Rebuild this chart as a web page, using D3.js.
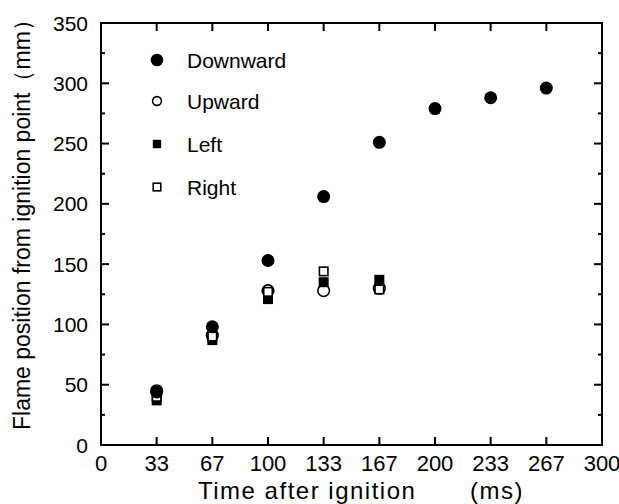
<!DOCTYPE html>
<html lang="en">
  <head>
    <meta charset="utf-8">
    <title>Flame position</title>
    <style>
      body { margin: 0; background: #fff; }
      text { font-family: "Liberation Sans", Arial, sans-serif; fill: #000; }
    </style>
  </head>
  <body>
    <svg id="chart"></svg>

    <script src="https://d3js.org/d3.v7.min.js"></script>

    <script type="text/javascript">
      // time after ignition (ms), frames every 33.3 ms
      const times = [100/3, 200/3, 100, 400/3, 500/3, 200, 700/3, 800/3];
      const downward = [44, 98, 153, 206, 251, 279, 288, 296];
      const upward = [45, 91, 128, 128, 130];
      const left = [37, 87, 121, 135, 137];
      const right = [40, 90, 127, 144, 129];

      const xTicks = [0, 100/3, 200/3, 100, 400/3, 500/3, 200, 700/3, 800/3, 300];
      const xTickLabels = ['0', '33', '67', '100', '133', '167', '200', '233', '267', '300'];
      const yTicks = [0, 50, 100, 150, 200, 250, 300, 350];
      const legendNames = ['Downward', 'Upward', 'Left', 'Right'];

      const W = 619, H = 504;
      const m = {left: 101, right: 602, top: 23, bottom: 445};

      const svg = d3.select('#chart')
        .attr('width', W)
        .attr('height', H);

      const x = d3.scaleLinear().domain([0, 300]).range([m.left, m.right]);
      const y = d3.scaleLinear().domain([0, 350]).range([m.bottom, m.top]);

      // ticks, pointing inward on every side
      const g = svg.append('g').attr('stroke', '#000').attr('stroke-width', 2);
      xTicks.slice(1, -1).forEach(t => {
        g.append('line').attr('x1', x(t)).attr('x2', x(t)).attr('y1', m.bottom).attr('y2', m.bottom - 8);
        g.append('line').attr('x1', x(t)).attr('x2', x(t)).attr('y1', m.top).attr('y2', m.top + 8);
      });
      d3.range(25, 350, 25).forEach(t => {
        const len = t % 50 === 0 ? 8 : 4;
        g.append('line').attr('x1', m.left).attr('x2', m.left + len).attr('y1', y(t)).attr('y2', y(t));
        g.append('line').attr('x1', m.right).attr('x2', m.right - len).attr('y1', y(t)).attr('y2', y(t));
      });
      svg.append('rect')
        .attr('x', m.left).attr('y', m.top)
        .attr('width', m.right - m.left).attr('height', m.bottom - m.top)
        .attr('fill', 'none').attr('stroke', '#000').attr('stroke-width', 2);

      // tick labels
      svg.append('g').selectAll('text')
        .data(xTicks)
        .join('text')
        .attr('x', d => x(d))
        .attr('y', 471)
        .attr('text-anchor', 'middle')
        .style('font-size', '22px')
        .style('font-stretch', 'condensed')
        .style('font-family', '"Liberation Sans Narrow", "Liberation Sans", sans-serif')
        .text((d, i) => xTickLabels[i]);

      svg.append('g').selectAll('text')
        .data(yTicks)
        .join('text')
        .attr('x', 88)
        .attr('y', d => y(d) + 7.5)
        .attr('text-anchor', 'end')
        .style('font-size', '21px')
        .text(d => d);

      // axis titles
      svg.append('text')
        .attr('x', 198).attr('y', 499)
        .style('font-size', '24px')
        .style('letter-spacing', '1.5px')
        .text('Time after ignition');
      svg.append('text')
        .attr('x', 470).attr('y', 499)
        .style('font-size', '24px')
        .style('letter-spacing', '1.5px')
        .text('(ms)');

      svg.append('text')
        .attr('transform', 'translate(30,430) rotate(-90)')
        .style('font-size', '23px')
        .text('Flame position from ignition point（mm）');

      // markers
      function circles(vals, filled, r) {
        svg.append('g').selectAll('circle')
          .data(vals)
          .join('circle')
          .attr('cx', (d, i) => x(times[i]))
          .attr('cy', d => y(d))
          .attr('r', r)
          .attr('fill', filled ? '#000' : '#fff')
          .attr('stroke', '#000')
          .attr('stroke-width', filled ? 0 : 1.6);
      }
      function squares(vals, filled, s) {
        svg.append('g').selectAll('rect')
          .data(vals)
          .join('rect')
          .attr('x', (d, i) => x(times[i]) - s / 2)
          .attr('y', d => y(d) - s / 2)
          .attr('width', s).attr('height', s)
          .attr('fill', filled ? '#000' : '#fff')
          .attr('stroke', '#000')
          .attr('stroke-width', filled ? 0 : 1.6);
      }
      circles(upward, false, 5.8);
      squares(left, true, 10);
      squares(right, false, 8.5);
      circles(downward, true, 6.5);

      // legend
      const lx = 157, ly = [60, 101, 144, 187];
      svg.append('circle').attr('cx', lx).attr('cy', ly[0]).attr('r', 6.3).attr('fill', '#000');
      svg.append('circle').attr('cx', lx).attr('cy', ly[1]).attr('r', 4.4)
        .attr('fill', '#fff').attr('stroke', '#000').attr('stroke-width', 1.6);
      svg.append('rect').attr('x', lx - 4.2).attr('y', ly[2] - 4.2).attr('width', 8.4).attr('height', 8.4).attr('fill', '#000');
      svg.append('rect').attr('x', lx - 3.8).attr('y', ly[3] - 3.8).attr('width', 7.6).attr('height', 7.6)
        .attr('fill', '#fff').attr('stroke', '#000').attr('stroke-width', 1.6);
      svg.append('g').selectAll('text')
        .data(legendNames)
        .join('text')
        .attr('x', 187)
        .attr('y', (d, i) => ly[i] + 7.5)
        .style('font-size', '21px')
        .text(d => d);
    </script>
  </body>
</html>
